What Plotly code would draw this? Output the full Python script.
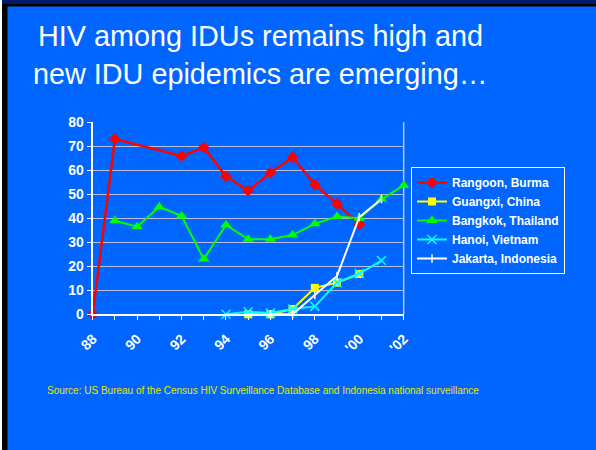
import plotly.graph_objects as go

W, H = 596, 450

# ---- data ----
years = ["88", "89", "90", "91", "92", "93", "94", "95", "96", "97", "98", "99", "'00", "'01", "'02"]
tick_labels = ["88", "", "90", "", "92", "", "94", "", "96", "", "98", "", "'00", "", "'02"]
rangoon = [0, 73, None, None, 66, 69.5, 57.5, 51.5, 59, 65.5, 54, 46, 37.5, None, None]
guangxi = [None, None, None, None, None, None, None, 0, 0, 2.2, 11, 13.2, 16.8, None, None]
bangkok = [None, 39, 36.5, 44.7, 41, 23, 37.2, 31.3, 31.3, 33, 37.7, 40.7, 40, 47.9, 53.7]
hanoi = [None, None, None, None, None, None, 0, 1.1, 0.5, 2.2, 3.3, 13.2, 17, 22.4, None]
jakarta = [None, None, None, None, None, None, None, None, 0, 0, 8, 16, 40.5, 48, None]

series = [
    ("Rangoon, Burma", rangoon, "#FF0000", "diamond", 9, 2.5),
    ("Guangxi, China", guangxi, "#FFFF00", "square", 8, 2),
    ("Bangkok, Thailand", bangkok, "#00FF00", "triangle-up", 10, 2),
    ("Hanoi, Vietnam", hanoi, "#00FFFF", "x-thin", 9, 2),
    ("Jakarta, Indonesia", jakarta, "#FFFFFF", "line-ns", 6, 2),
]

BLUE = "#0066FF"
FONT = "Liberation Sans, Arial, sans-serif"

x_idx = list(range(len(years)))

fig = go.Figure()
for name, vals, color, sym, size, lw in series:
    marker = dict(symbol=sym, size=size, color=color)
    if sym in ("x-thin", "line-ns"):
        marker["line"] = dict(color=color, width=1.5)
    fig.add_trace(go.Scatter(
        x=x_idx, y=vals, name=name, mode="lines+markers",
        line=dict(color=color, width=lw), marker=marker,
        connectgaps=True, cliponaxis=False,
    ))

def px_x(p):
    return p / W

def px_y(p):
    return 1 - p / H

fig.update_layout(
    width=W, height=H,
    margin=dict(l=0, r=0, t=0, b=0, pad=0, autoexpand=False),
    paper_bgcolor=BLUE, plot_bgcolor=BLUE,
    font=dict(family=FONT, color="white"),
    showlegend=True,
    legend=dict(
        x=px_x(411), y=px_y(167), xanchor="left", yanchor="top",
        bgcolor=BLUE, bordercolor="white", borderwidth=1,
        font=dict(family=FONT, size=12, color="white", weight="bold"),
        itemwidth=30, tracegroupgap=0,
    ),
    xaxis=dict(
        domain=[px_x(92.7), px_x(403.7)], automargin=False,
        range=[0, 14], tickmode="array", tickvals=x_idx, ticktext=tick_labels,
        tickangle=-45, ticks="outside", ticklen=4, tickcolor="white", tickwidth=1,
        ticklabelstandoff=5,
        showline=True, linecolor="white", linewidth=2,
        showgrid=False, zeroline=False,
        tickfont=dict(family=FONT, size=14, color="white", weight="bold"),
    ),
    yaxis=dict(
        domain=[px_y(314.3), px_y(122.3)], automargin=False,
        range=[0, 80], dtick=10, ticks="outside", ticklen=4, tickcolor="white",
        showline=True, linecolor="white", linewidth=2,
        showgrid=True, gridcolor="rgb(185,195,225)", gridwidth=1,
        zeroline=False,
        tickfont=dict(family=FONT, size=14, color="white", weight="bold"),
    ),
)

shapes = [
    # right border of plot area
    dict(type="line", xref="x domain", yref="y domain", x0=1, x1=1, y0=0, y1=1,
         line=dict(color="rgb(185,195,225)", width=1.5), layer="below"),
    # slide frame
    dict(type="rect", xref="paper", yref="paper", x0=0, x1=px_x(2), y0=0, y1=1,
         fillcolor="white", line_width=0),
    dict(type="rect", xref="paper", yref="paper", x0=px_x(2), x1=px_x(7.5), y0=0, y1=px_y(4),
         fillcolor="black", line_width=0),
    dict(type="rect", xref="paper", yref="paper", x0=px_x(2), x1=1, y0=px_y(4), y1=1,
         fillcolor="#001A66", line_width=0),
    dict(type="rect", xref="paper", yref="paper", x0=px_x(2), x1=1, y0=px_y(6.5), y1=px_y(4),
         fillcolor="black", line_width=0),
]
fig.update_layout(shapes=shapes)

fig.add_annotation(text="HIV among IDUs remains high and", xref="paper", yref="paper",
                   x=px_x(260), y=px_y(36), xanchor="center", yanchor="middle",
                   showarrow=False, font=dict(family=FONT, size=28.8, color="white"))
fig.add_annotation(text="new IDU epidemics are emerging…", xref="paper", yref="paper",
                   x=px_x(260), y=px_y(74), xanchor="center", yanchor="middle",
                   showarrow=False, font=dict(family=FONT, size=28.8, color="white"))
fig.add_annotation(text="Source: US Bureau of the Census HIV Surveillance Database and Indonesia national surveillance",
                   xref="paper", yref="paper", x=px_x(263), y=px_y(390),
                   xanchor="center", yanchor="middle", showarrow=False,
                   font=dict(family=FONT, size=10, color="#E6E600"))

fig.write_html(
    "out.html",
    config={"displayModeBar": False},
    post_script="document.body.style.margin='0';document.body.style.padding='0';",
)
